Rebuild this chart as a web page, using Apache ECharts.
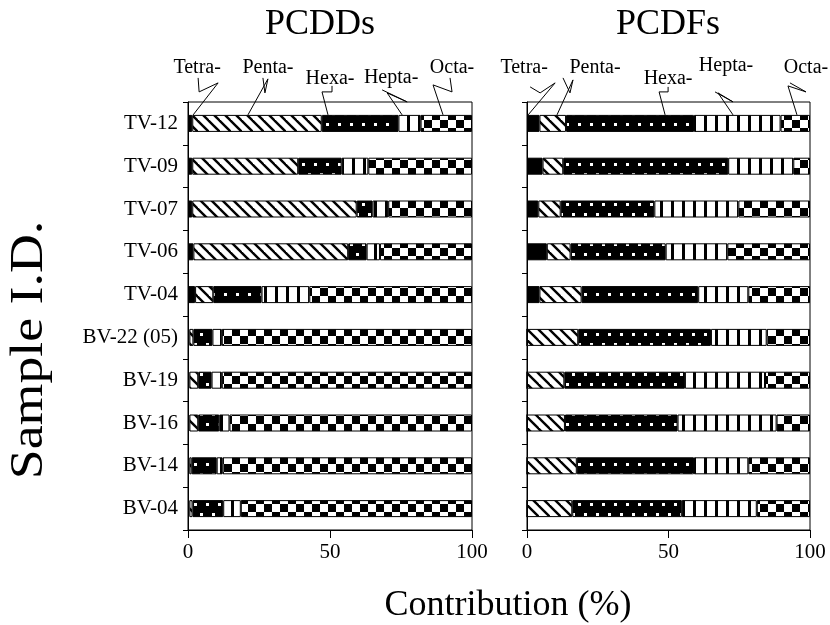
<!DOCTYPE html>
<html><head><meta charset="utf-8">
<script src="https://cdn.jsdelivr.net/npm/echarts@6/dist/echarts.min.js"></script>
<style>html,body{margin:0;padding:0;background:#fff}#c{width:830px;height:625px}</style>
</head><body><div id="c"></div>
<script>
// ---- data ----
const samples = ['TV-12','TV-09','TV-07','TV-06','TV-04','BV-22 (05)','BV-19','BV-16','BV-14','BV-04'];
const homologues = ['Tetra-','Penta-','Hexa-','Hepta-','Octa-'];
const xTicks = [0, 50, 100];
// PCDDs (% contribution)
const pcddTetra = [1.5,1.5,1.5,1.9,2.5,0.5,0.5,0.5,0.5,0.5];
const pcddPenta = [45.6,37.3,57.9,54.5,6.4,1.4,3.1,3.1,0.8,1.1];
const pcddHexa  = [27.0,15.3,5.6,6.5,17.0,6.7,4.7,7.4,8.8,10.8];
const pcddHepta = [7.8,9.4,5.5,4.7,16.8,3.3,3.6,3.6,2.1,6.2];
const pcddOcta  = [18.1,36.5,29.5,32.4,57.3,88.1,88.1,85.4,87.8,81.4];
// PCDFs (% contribution)
const pcdfTetra = [4.4,5.5,4.0,7.0,4.4,0,0,0,0,0];
const pcdfPenta = [9.4,7.3,7.9,8.4,14.9,18.1,13.2,13.4,17.6,16.0];
const pcdfHexa  = [45.2,58.3,33.1,33.6,41.2,46.9,42.6,39.8,41.4,38.7];
const pcdfHepta = [30.6,23.0,29.7,21.8,17.7,19.7,28.3,35.0,19.2,26.5];
const pcdfOcta  = [10.4,5.9,25.3,29.2,21.8,15.3,15.9,11.8,21.8,18.8];
// callout target values (position along TV-12 bar, %)
const calloutDD = [1.8, 21.1, 49.3, 75.4, 89.8];
const calloutDF = [0.4, 10.6, 48.8, 72.8, 95.4];

// ---- patterns ----
function pat(kind){
  const c=document.createElement('canvas'); let g;
  if(kind==='solid'){ return '#000'; }
  if(kind==='hatch'){
    c.width=11;c.height=11;g=c.getContext('2d');
    g.fillStyle='#fff';g.fillRect(0,0,11,11);
    g.strokeStyle='#000';g.lineWidth=2.4;
    for(const o of [-11,0,11]){g.beginPath();g.moveTo(o-1,-1);g.lineTo(o+12,12);g.stroke();}
  } else if(kind==='dots'){
    c.width=12;c.height=20;g=c.getContext('2d');
    g.fillStyle='#000';g.fillRect(0,0,12,20);
    g.fillStyle='#fff';g.fillRect(2,3,3,3);g.fillRect(8,13,3,3);
  } else if(kind==='stripes'){
    c.width=11;c.height=4;g=c.getContext('2d');
    g.fillStyle='#fff';g.fillRect(0,0,11,4);
    g.fillStyle='#000';g.fillRect(0,0,3,4);
  } else if(kind==='checker'){
    c.width=16;c.height=16;g=c.getContext('2d');
    g.fillStyle='#fff';g.fillRect(0,0,16,16);
    g.fillStyle='#000';g.fillRect(0,0,8,8);g.fillRect(8,8,8,8);
  }
  return {image:c, repeat:'repeat'};
}
const fills = [pat('solid'), pat('hatch'), pat('dots'), pat('stripes'), pat('checker')];

const SERIF = '"Liberation Serif","Times New Roman",serif';
const chart = echarts.init(document.getElementById('c'), null, {renderer:'canvas'});

function mkSeries(arrs, idx, stack){
  return arrs.map((d,i)=>({
    name: homologues[i], type:'bar', stack: stack, xAxisIndex: idx, yAxisIndex: idx,
    data: d, barWidth: 17, silent:true,
    itemStyle:{color: fills[i], borderColor:'#000', borderWidth:1}
  }));
}
function xAx(i){
  return {gridIndex:i, type:'value', min:xTicks[0], max:xTicks[xTicks.length-1], interval:xTicks[1]-xTicks[0],
    axisLine:{show:true, lineStyle:{color:'#000', width:1}},
    axisTick:{show:true, length:8, lineStyle:{color:'#000'}},
    axisLabel:{color:'#000', fontFamily:SERIF, fontSize:21, margin:12},
    splitLine:{show:false}};
}
function yAx(i, showLabels){
  return {gridIndex:i, type:'category', data:samples, inverse:true,
    axisLine:{show:true, lineStyle:{color:'#000', width:1}},
    axisTick:{show:true, length:5, lineStyle:{color:'#000'}},
    axisLabel:{show:showLabels, color:'#000', fontFamily:SERIF, fontSize:21, margin:10},
    splitLine:{show:false}};
}

chart.setOption({
  animation:false,
  backgroundColor:'#fff',
  grid:[
    {left:188, right:358, top:102, bottom:95, show:true, borderColor:'#000', borderWidth:1},
    {left:527, right:20, top:102, bottom:95, show:true, borderColor:'#000', borderWidth:1}
  ],
  xAxis:[xAx(0), xAx(1)],
  yAxis:[yAx(0,true), yAx(1,false)],
  series:[].concat(
    mkSeries([pcddTetra,pcddPenta,pcddHexa,pcddHepta,pcddOcta],0,'dd'),
    mkSeries([pcdfTetra,pcdfPenta,pcdfHexa,pcdfHepta,pcdfOcta],1,'df'))
});

// leader shapes: offsets from target point on top edge of TV-12 bar, and text centre offset
const leadersDD = [
  {pts:[[25,-32],[6,-23],[5,-37]], txt:[4,-47]},
  {pts:[[20,-36],[17,-22],[15,-37]], txt:[20,-47]},
  {pts:[[-6,-23],[4,-23],[4,-29]], txt:[2,-36]},
  {pts:[[-15,-22],[5,-13],[-20,-25]], txt:[-11,-37]},
  {pts:[[-10,-30],[9,-23],[7,-37]], txt:[9,-47]}
];
const leadersDF = [
  {pts:[[27,-32],[12,-22],[2,-28]], txt:[-4,-47]},
  {pts:[[16,-35],[13,-22],[6,-37]], txt:[38,-47]},
  {pts:[[-6,-23],[3,-23],[3,-28]], txt:[3,-36]},
  {pts:[[-15,-22],[0,-13],[-18,-23]], txt:[-7,-49]},
  {pts:[[-9,-29],[9,-23],[-7,-32]], txt:[9,-47]}
];

function txt(x,y,s,size,rot,sx,sy){
  return {type:'text', x:x, y:y, rotation:rot||0, scaleX:sx||1, scaleY:sy||1, silent:true,
    style:{text:s, font:size+'px '+SERIF, fill:'#000', textAlign:'center', textVerticalAlign:'middle', align:'center', verticalAlign:'middle'}};
}
const gr = [];
gr.push(txt(320,25,'PCDDs',36));
gr.push(txt(668,25,'PCDFs',36));
gr.push(txt(508,606,'Contribution (%)',36));
gr.push(txt(30,350,'Sample I.D.',46,Math.PI/2,1.17,1));

function addCallouts(vals, leaders, idx){
  vals.forEach((v,i)=>{
    const p = chart.convertToPixel({xAxisIndex:idx, yAxisIndex:idx}, [v, samples[0]]);
    const tx = p[0], ty = p[1]-8.5;
    const L = leaders[i];
    const pts = [[tx,ty]].concat(L.pts.map(o=>[tx+o[0], ty+o[1]]));
    gr.push({type:'polyline', silent:true, shape:{points:pts}, style:{stroke:'#000', lineWidth:1, fill:null}});
    gr.push(txt(tx+L.txt[0], ty+L.txt[1], homologues[i], 20));
  });
}
addCallouts(calloutDD, leadersDD, 0);
addCallouts(calloutDF, leadersDF, 1);
chart.setOption({graphic: gr});
</script>
</body></html>
